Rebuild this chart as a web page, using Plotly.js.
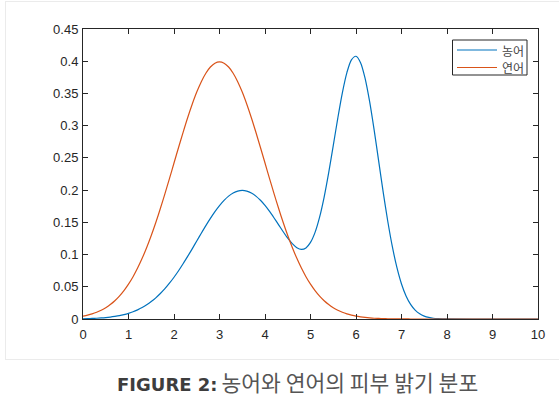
<!DOCTYPE html>
<html>
<head>
<meta charset="utf-8">
<script src="https://cdn.plot.ly/plotly-3.0.1.min.js"></script>
<style>
  html, body { margin: 0; padding: 0; background: #ffffff; }
  #wrap { position: relative; width: 559px; height: 398px; overflow: hidden; }
  #card { position: absolute; left: 5px; top: 1px; width: 560px; height: 359px;
          border: 1px solid #ebebeb; box-sizing: border-box; pointer-events: none; }
  #chart { position: absolute; left: 0; top: 0; width: 559px; height: 398px; }
  #caption { position: absolute; left: 117px; top: 368px; white-space: nowrap; line-height: 28px; }
  #caption .b { font-family: 'DejaVu Sans', sans-serif; font-weight: bold; font-size: 18px; color: #3d3d3d; }
  #caption .k { font-family: 'Noto Sans CJK KR', sans-serif; font-weight: normal; font-size: 21.5px; color: #555555; }
</style>
</head>
<body>
<div id="wrap">
  <div id="card"></div>
  <div id="chart"></div>
  <div id="caption"><span class="b" id="capB"></span> <span class="k" id="capK"></span></div>
</div>
<script>
// x positions (skin brightness)
const xValues = [
  0.0,0.1,0.2,0.3,0.4,0.5,0.6,0.7,0.8,0.9,
  1.0,1.1,1.2,1.3,1.4,1.5,1.6,1.7,1.8,1.9,
  2.0,2.1,2.2,2.3,2.4,2.5,2.6,2.7,2.8,2.9,
  3.0,3.1,3.2,3.3,3.4,3.5,3.6,3.7,3.8,3.9,
  4.0,4.1,4.2,4.3,4.4,4.5,4.6,4.7,4.8,4.9,
  5.0,5.1,5.2,5.3,5.4,5.5,5.6,5.7,5.8,5.9,
  6.0,6.1,6.2,6.3,6.4,6.5,6.6,6.7,6.8,6.9,
  7.0,7.1,7.2,7.3,7.4,7.5,7.6,7.7,7.8,7.9,
  8.0,9.0,10.0
];
// 농어 (sea bass)
const seaBass = [
  0.0004,0.0006,0.0009,0.0012,0.0016,0.0022,0.0030,0.0040,0.0052,0.0068,
  0.0088,0.0112,0.0142,0.0177,0.0220,0.0270,0.0328,0.0395,0.0470,0.0555,
  0.0648,0.0749,0.0857,0.0971,0.1089,0.1210,0.1331,0.1449,0.1561,0.1666,
  0.1760,0.1841,0.1907,0.1955,0.1985,0.1995,0.1985,0.1955,0.1907,0.1842,
  0.1762,0.1669,0.1567,0.1461,0.1354,0.1254,0.1169,0.1107,0.1081,0.1103,
  0.1188,0.1344,0.1580,0.1892,0.2270,0.2690,0.3117,0.3510,0.3824,0.4022,
  0.4077,0.3978,0.3735,0.3372,0.2927,0.2442,0.1958,0.1509,0.1118,0.0796,
  0.0544,0.0358,0.0226,0.0137,0.0080,0.0045,0.0024,0.0012,0.0006,0.0003,
  0.0001,0.0000,0.0000
];
// 연어 (salmon)
const salmon = [
  0.0044,0.0060,0.0079,0.0104,0.0136,0.0175,0.0224,0.0283,0.0355,0.0440,
  0.0540,0.0656,0.0790,0.0941,0.1109,0.1295,0.1497,0.1714,0.1942,0.2179,
  0.2420,0.2661,0.2897,0.3123,0.3332,0.3521,0.3683,0.3814,0.3910,0.3970,
  0.3989,0.3970,0.3910,0.3814,0.3683,0.3521,0.3332,0.3123,0.2897,0.2661,
  0.2420,0.2179,0.1942,0.1714,0.1497,0.1295,0.1109,0.0941,0.0790,0.0656,
  0.0540,0.0440,0.0355,0.0283,0.0224,0.0175,0.0136,0.0104,0.0079,0.0060,
  0.0044,0.0033,0.0024,0.0017,0.0012,0.0009,0.0006,0.0004,0.0003,0.0002,
  0.0001,0.0001,0.0000,0.0000,0.0000,0.0000,0.0000,0.0000,0.0000,0.0000,
  0.0000,0.0000,0.0000
];
const seriesNames = ['농어', '연어'];
const seriesColors = ['#0072BD', '#D95319'];
const xTickVals = [0,1,2,3,4,5,6,7,8,9,10];
const xTickText = ['0','1','2','3','4','5','6','7','8','9','10'];
const yTickVals = [0,0.05,0.1,0.15,0.2,0.25,0.3,0.35,0.4,0.45];
const yTickText = ['0','0.05','0.1','0.15','0.2','0.25','0.3','0.35','0.4','0.45'];
const captionBold = 'FIGURE 2:';
const captionText = '농어와 연어의 피부 밝기 분포';

document.getElementById('capB').textContent = captionBold;
document.getElementById('capK').textContent = captionText;

// plot-area geometry in pixels (for placing the legend box)
const W = 559, H = 398;
const L = 83, R = 21, T = 29, B = 79;
const pw = W - L - R, ph = H - T - B;
const px = v => (v - L) / pw;
const py = v => (H - B - v) / ph;

const axisCommon = {
  showline: true, linecolor: '#262626', linewidth: 1, mirror: 'ticks',
  ticks: 'inside', ticklen: 5, tickcolor: '#262626', tickwidth: 1,
  showgrid: false, zeroline: false,
  tickfont: { family: 'Liberation Sans, Arial, sans-serif', size: 13, color: '#262626' },
  tickmode: 'array', fixedrange: true
};

const traces = seriesNames.map((n, i) => ({
  x: xValues, y: i === 0 ? seaBass : salmon, name: n, type: 'scatter', mode: 'lines',
  line: { color: seriesColors[i], width: 1.2, shape: 'spline', smoothing: 0.8 }
}));

// legend (MATLAB style box), built from the series names/colours
const legRow = [50, 67.5];
const shapes = [
  { type: 'rect', xref: 'paper', yref: 'paper', x0: px(452.5), x1: px(527), y0: py(40), y1: py(75),
    line: { color: '#262626', width: 1 }, fillcolor: '#ffffff', layer: 'above' }
];
const annotations = [];
seriesNames.forEach((n, i) => {
  shapes.push({ type: 'line', xref: 'paper', yref: 'paper', x0: px(457), x1: px(497),
    y0: py(legRow[i]), y1: py(legRow[i]), line: { color: seriesColors[i], width: 1.2 }, layer: 'above' });
  annotations.push({ xref: 'paper', yref: 'paper', x: px(500), y: py(legRow[i]), xanchor: 'left', yanchor: 'middle',
    showarrow: false, text: n,
    font: { family: 'Noto Sans CJK KR, sans-serif', size: 12, color: '#444444' } });
});

const layout = {
  width: W, height: H,
  margin: { l: L, r: R, t: T, b: B, pad: 0 },
  paper_bgcolor: 'rgba(0,0,0,0)', plot_bgcolor: '#ffffff',
  xaxis: Object.assign({}, axisCommon, { range: [0, 10], tickvals: xTickVals, ticktext: xTickText, ticklabelstandoff: 3 }),
  yaxis: Object.assign({}, axisCommon, { range: [0, 0.45], tickvals: yTickVals, ticktext: yTickText, ticklabelstandoff: 1 }),
  showlegend: false,
  shapes: shapes,
  annotations: annotations
};

Plotly.newPlot('chart', traces, layout, { displayModeBar: false, staticPlot: true });
</script>
</body>
</html>
